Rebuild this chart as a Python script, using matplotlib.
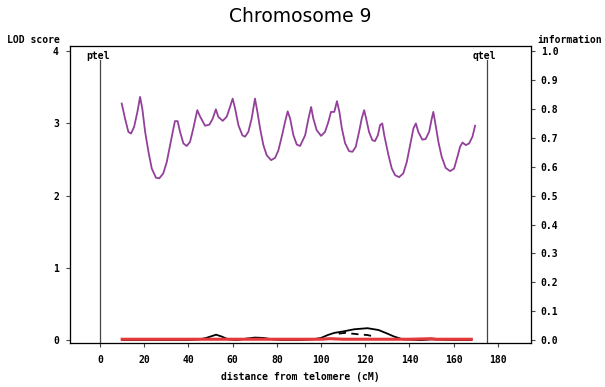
import matplotlib

matplotlib.use("Agg")
import matplotlib.pyplot as plt

# information content (right axis)
info_cm = [
    9.8, 11.3, 12.8, 14.0, 15.4, 16.9, 18.1, 19.1, 20.4, 21.9, 23.4, 25.3,
    26.8, 28.6, 30.2, 31.7, 33.2, 33.9, 35.1, 36.2, 37.7, 39.2, 40.7, 42.2,
    44.0, 45.2, 47.5, 49.5, 51.0, 52.4, 53.5, 55.5, 57.3, 58.8, 60.0, 61.1,
    62.6, 64.4, 65.6, 67.1, 68.6, 70.1, 71.2, 72.4, 73.9, 75.4, 77.4, 79.2,
    80.7, 82.2, 83.7, 84.9, 86.0, 87.5, 89.0, 90.5, 92.8, 94.3, 95.5, 96.5,
    98.0, 100.0, 101.8, 103.3, 104.5, 106.0, 107.2, 108.3, 109.4, 110.9,
    112.7, 114.2, 115.7, 117.2, 118.4, 119.5, 120.4, 121.7, 123.2, 124.4,
    125.7, 126.7, 127.7, 128.6, 130.5, 132.0, 133.5, 135.3, 137.2, 138.8,
    140.3, 141.8, 142.9, 144.0, 145.8, 147.3, 148.9, 150.1, 150.8, 151.6,
    153.1, 154.6, 156.4, 158.4, 160.2, 161.9, 162.9, 164.0, 165.5, 167.0,
    168.5, 169.7,
]
info_val = [
    0.819, 0.767, 0.721, 0.715, 0.738, 0.790, 0.842, 0.802, 0.721, 0.652,
    0.594, 0.562, 0.560, 0.577, 0.617, 0.675, 0.733, 0.758, 0.758, 0.721,
    0.681, 0.672, 0.686, 0.733, 0.796, 0.775, 0.742, 0.746, 0.767, 0.799,
    0.773, 0.759, 0.773, 0.807, 0.836, 0.802, 0.744, 0.709, 0.704, 0.721,
    0.767, 0.836, 0.790, 0.733, 0.675, 0.640, 0.623, 0.631, 0.657, 0.704,
    0.755, 0.792, 0.767, 0.709, 0.677, 0.672, 0.709, 0.767, 0.807, 0.767,
    0.727, 0.707, 0.721, 0.755, 0.790, 0.790, 0.827, 0.790, 0.733, 0.681,
    0.654, 0.652, 0.669, 0.721, 0.767, 0.796, 0.767, 0.721, 0.692, 0.689,
    0.709, 0.744, 0.750, 0.709, 0.640, 0.594, 0.571, 0.564, 0.577, 0.617,
    0.675, 0.733, 0.750, 0.721, 0.694, 0.696, 0.721, 0.767, 0.790, 0.755,
    0.686, 0.634, 0.596, 0.585, 0.594, 0.640, 0.669, 0.684, 0.675, 0.681,
    0.704, 0.742,
]

# LOD scores (left axis)
lod_cm = [10, 40, 45, 48, 50, 52.5, 55, 58, 62, 66, 70, 74, 78, 82, 90, 96,
          100, 103, 106, 110, 115, 121, 126, 130, 133, 137, 145, 150, 160, 168]
lod_val = [0.0, 0.0, 0.01, 0.03, 0.05, 0.075, 0.05, 0.01, 0.0, 0.02, 0.035,
           0.03, 0.01, 0.0, 0.0, 0.01, 0.03, 0.07, 0.1, 0.12, 0.15, 0.165,
           0.14, 0.09, 0.05, 0.01, 0.0, 0.01, 0.0, 0.0]
lod2_cm = [108, 111, 114, 117, 121, 124]
lod2_val = [0.09, 0.1, 0.09, 0.08, 0.07, 0.05]
red_cm = [10, 30, 60, 100, 104, 110, 140, 150, 152, 168]
red_val = [0.012, 0.012, 0.012, 0.012, 0.02, 0.012, 0.012, 0.02, 0.012, 0.012]

telomeres = [("ptel", 0), ("qtel", 175)]
x_ticks = list(range(0, 181, 20))
lod_ticks = [0, 1, 2, 3, 4]
info_ticks = [i / 10 for i in range(11)]

mono = {"family": "DejaVu Sans Mono", "weight": "bold", "size": 7.0}

fig = plt.figure(figsize=(6.05, 3.87), dpi=100)
ax = fig.add_axes([0.1157, 0.1137, 0.762, 0.767])
ax.set_xlim(-13.6, 195)
ax.set_ylim(-0.04, 4.07)
ax2 = ax.twinx()
ax2.set_ylim(-0.01, 4.07 / 4)

ax.plot(lod_cm, lod_val, color="black", lw=1.3, zorder=3)
ax.plot(lod2_cm, lod2_val, color="black", lw=1.3, ls=(0, (4, 3)), zorder=3)
ax.plot(red_cm, red_val, color="#e23a3a", lw=2.2, zorder=4)
ax2.plot(info_cm, info_val, color="#93409a", lw=1.3)

for name, pos in telomeres:
    ax.plot([pos, pos], [-0.04, 3.88], color="#444444", lw=0.9)
    ax.text(pos - 1, 3.94, name, ha="center", va="center", **mono)

for spine in ax.spines.values():
    spine.set_color("#444444")
    spine.set_linewidth(0.9)

ax.set_xticks(x_ticks)
ax.set_yticks(lod_ticks)
ax2.set_yticks(info_ticks)
ax.set_xticklabels([str(t) for t in x_ticks], fontdict=mono)
ax.set_yticklabels([str(t) for t in lod_ticks], fontdict=mono)
ax2.set_yticklabels([f"{t:.1f}" for t in info_ticks], fontdict=mono)
ax.tick_params(axis="both", length=3, width=0.8, color="#444444", pad=5)
ax.tick_params(axis="x", pad=6)
ax2.tick_params(axis="y", length=3, width=0.8, color="#444444", pad=4)

ax.set_xlabel("distance from telomere (cM)", fontdict=mono, labelpad=5)
fig.text(7 / 605, 1 - 40 / 387, "LOD score", ha="left", va="center", **mono)
fig.text(537 / 605, 1 - 40 / 387, "information", ha="left", va="center", **mono)
fig.text(0.497, 1 - 17 / 387, "Chromosome 9", ha="center", va="center",
         fontsize=13.5)

fig.savefig("out.png", dpi=100)
